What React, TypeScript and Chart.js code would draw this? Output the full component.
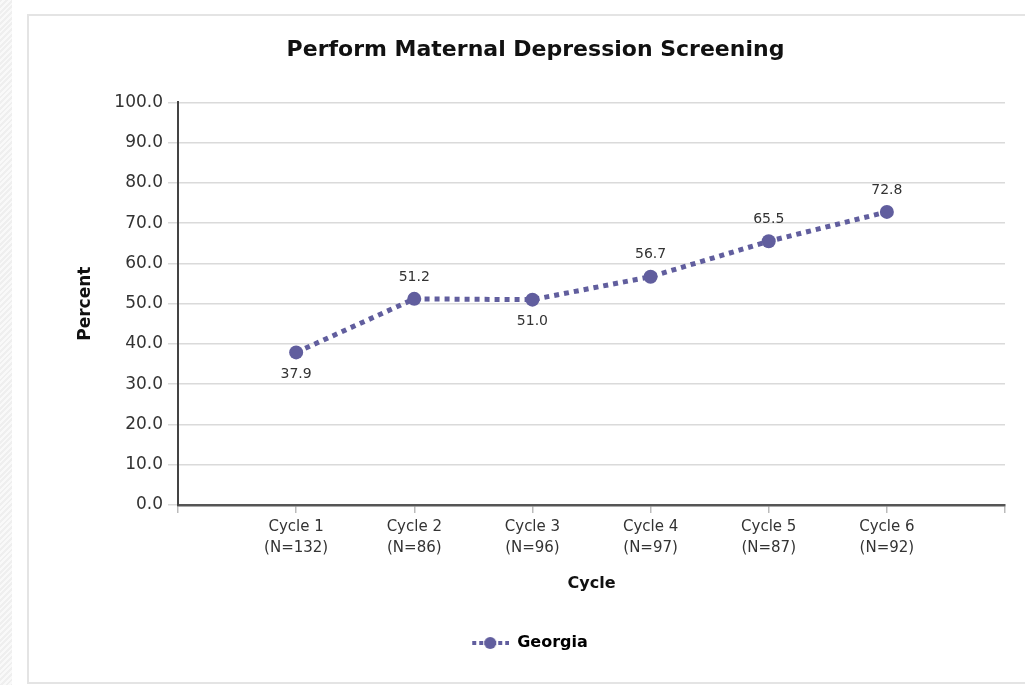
import React, { useEffect, useRef } from 'react';
import { Chart, registerables } from 'chart.js';

Chart.register(...registerables);

const chartTitle = 'Perform Maternal Depression Screening';
const cycleNames = ['Cycle 1', 'Cycle 2', 'Cycle 3', 'Cycle 4', 'Cycle 5', 'Cycle 6'];
const sampleSizes = ['(N=132)', '(N=86)', '(N=96)', '(N=97)', '(N=87)', '(N=92)'];
const georgiaValues = [37.9, 51.2, 51.0, 56.7, 65.5, 72.8];
const labelSides = ['below', 'above', 'below', 'above', 'above', 'above'];
const seriesName = 'Georgia';
const yAxisTitle = 'Percent';
const xAxisTitle = 'Cycle';

const LINE_COLOR = '#615e9e';
const FONT = '"DejaVu Sans", sans-serif';

const valueLabels = {
  id: 'valueLabels',
  afterDatasetsDraw(chart: any) {
    const meta = chart.getDatasetMeta(0);
    const ctx = chart.ctx;
    ctx.save();
    ctx.font = `14px ${FONT}`;
    ctx.fillStyle = '#333333';
    ctx.textAlign = 'center';
    ctx.textBaseline = 'middle';
    georgiaValues.forEach((v, i) => {
      const pt = meta.data[i + 1];
      if (!pt) return;
      const dy = labelSides[i] === 'above' ? -22 : 22;
      ctx.fillText(v.toFixed(1), pt.x, pt.y + dy);
    });
    ctx.restore();
  },
};

// nudge the centred title and legend slightly left, as in the reference
const boxNudge = {
  id: 'boxNudge',
  afterLayout(chart: any) {
    if (chart.legend) {
      chart.legend.left -= 10;
      chart.legend.right -= 10;
    }
    if (chart.titleBlock) {
      chart.titleBlock.left -= 4;
      chart.titleBlock.right -= 4;
    }
  },
};

function makeLegendIcon(): HTMLCanvasElement {
  const c = document.createElement('canvas');
  c.width = 38;
  c.height = 14;
  const g = c.getContext('2d')!;
  g.fillStyle = LINE_COLOR;
  [1, 8, 27, 34].forEach((x) => g.fillRect(x, 5, 4, 4));
  g.fillRect(13, 5, 12, 4);
  g.beginPath();
  g.arc(19, 7, 6, 0, Math.PI * 2);
  g.fill();
  return c;
}

export default function App() {
  const canvasRef = useRef<HTMLCanvasElement | null>(null);

  useEffect(() => {
    if (!canvasRef.current) return;
    const icon = makeLegendIcon();
    const labels: any[] = ['', ...cycleNames.map((c, i) => [c, sampleSizes[i]]), ''];
    const data: (number | null)[] = [null, ...georgiaValues, null];

    const chart = new Chart(canvasRef.current, {
      type: 'line',
      data: {
        labels,
        datasets: [
          {
            label: seriesName,
            data,
            borderColor: LINE_COLOR,
            backgroundColor: LINE_COLOR,
            borderWidth: 5,
            borderDash: [5, 5],
            pointRadius: 7,
            pointHoverRadius: 7,
            pointBackgroundColor: LINE_COLOR,
            pointBorderWidth: 0,
            tension: 0,
            spanGaps: false,
          },
        ],
      },
      options: {
        responsive: false,
        animation: false,
        layout: { padding: { left: 44, right: 20, top: 0, bottom: 22 } },
        plugins: {
          title: {
            display: true,
            text: chartTitle,
            color: '#111111',
            font: { family: FONT, size: 22, weight: 'bold' },
            padding: { top: 20, bottom: 39 },
          },
          legend: {
            display: true,
            position: 'bottom',
            labels: {
              usePointStyle: true,
              pointStyleWidth: 38,
              padding: 10,
              color: '#222222',
              font: { family: FONT, size: 16, weight: 'bold' },
              generateLabels: () => [
                {
                  text: seriesName,
                  pointStyle: icon as any,
                  fillStyle: LINE_COLOR,
                  strokeStyle: LINE_COLOR,
                  lineWidth: 0,
                  hidden: false,
                  datasetIndex: 0,
                } as any,
              ],
            },
          },
          tooltip: { enabled: false },
        },
        scales: {
          x: {
            type: 'category',
            offset: false,
            afterFit: (scale: any) => {
              scale.height = 120;
            },
            border: { display: true, color: '#555555', width: 2.5 },
            grid: {
              drawOnChartArea: false,
              drawTicks: true,
              tickLength: 8,
              color: '#bbbbbb',
              lineWidth: 1.5,
            },
            ticks: {
              autoSkip: false,
              maxRotation: 0,
              minRotation: 0,
              padding: 4,
              color: '#333333',
              font: { family: FONT, size: 15, lineHeight: 1.4 },
            },
            title: {
              display: true,
              text: xAxisTitle,
              color: '#111111',
              font: { family: FONT, size: 16, weight: 'bold' },
              padding: { top: 0, bottom: 32 },
            },
          },
          y: {
            min: 0,
            max: 100,
            afterFit: (scale: any) => {
              scale.width = 104;
            },
            border: { display: true, color: '#444444', width: 2 },
            grid: {
              color: '#dadada',
              lineWidth: 1.5,
              drawTicks: true,
              tickLength: 10,
            },
            ticks: {
              stepSize: 10,
              padding: 5,
              color: '#333333',
              font: { family: FONT, size: 17 },
              callback: (v: any) => Number(v).toFixed(1),
            },
            title: {
              display: true,
              text: yAxisTitle,
              color: '#111111',
              font: { family: FONT, size: 17, weight: 'bold' },
              padding: { top: 1, bottom: 0 },
            },
          },
        },
      },
      plugins: [valueLabels, boxNudge],
    });

    return () => chart.destroy();
  }, []);

  return (
    <div
      style={{
        position: 'fixed',
        left: 0,
        top: 0,
        width: 1025,
        height: 685,
        overflow: 'hidden',
        background: '#ffffff',
      }}
    >
      <div
        style={{
          position: 'absolute',
          left: 0,
          top: 0,
          width: 12,
          height: 685,
          background: 'repeating-linear-gradient(135deg, #efefef 0px, #efefef 2px, #f9f9f9 2px, #f9f9f9 4px)',
        }}
      />
      <div
        style={{
          position: 'absolute',
          left: 27,
          top: 14,
          width: 1030,
          height: 670,
          border: '2px solid #e4e4e4',
          boxSizing: 'border-box',
        }}
      />
      <div style={{ position: 'absolute', left: 30, top: 17, width: 995, height: 666 }}>
        <canvas ref={canvasRef} width={995} height={666} style={{ display: 'block' }} />
      </div>
    </div>
  );
}
